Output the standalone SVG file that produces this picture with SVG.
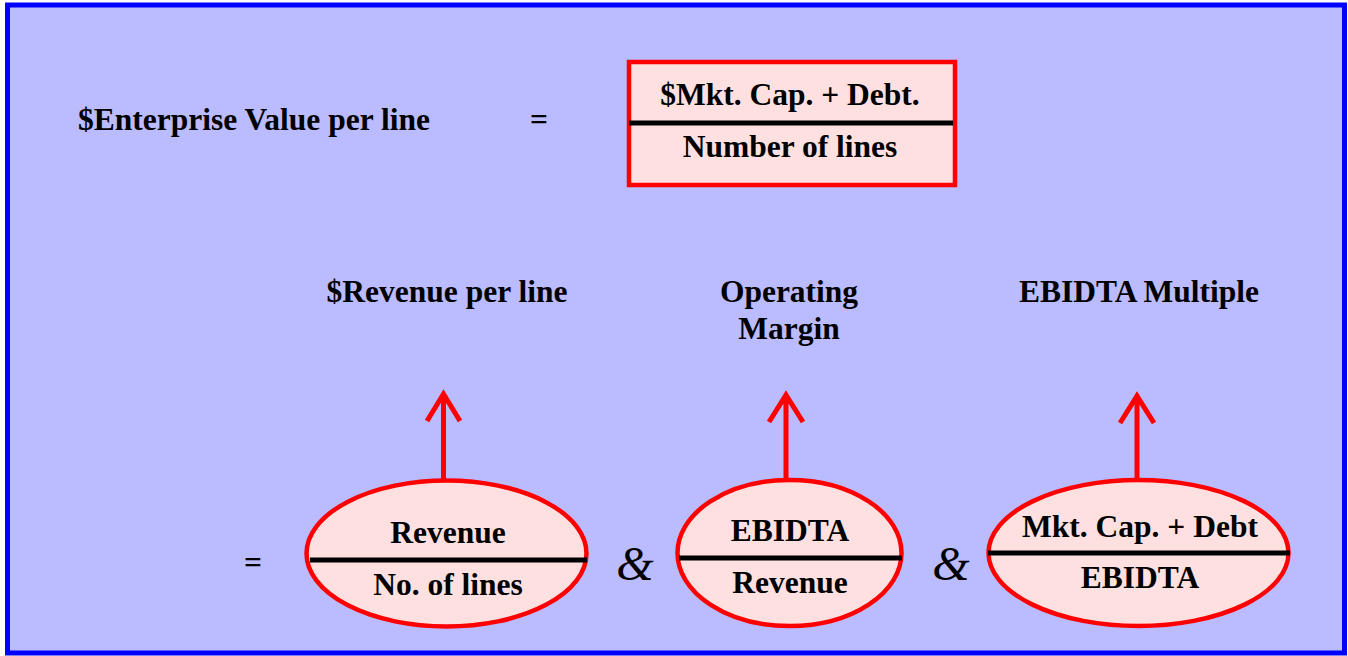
<svg xmlns="http://www.w3.org/2000/svg" width="1348" height="656" viewBox="0 0 1348 656">
<defs>
<style>
.t{font-family:"Liberation Serif","Times New Roman",serif;font-weight:bold;font-size:31.5px;fill:#000;text-anchor:middle}
.amp{font-family:"Liberation Serif","Times New Roman",serif;font-style:italic;font-size:48px;fill:#000;text-anchor:middle}
.shape{fill:#FFE0E0;stroke:#FF0000;stroke-width:4.5}
.div{stroke:#000;stroke-width:5}
.arr{stroke:#FF0000;stroke-width:5;fill:none}
</style>
</defs>
<rect x="7.5" y="5" width="1337" height="648" fill="#BBBBFF" stroke="#0000FF" stroke-width="5"/>
<g id="lhs">
<text class="t" x="254" y="130">$Enterprise Value per line</text>
<text class="t" x="539" y="130">=</text>
</g>
<g id="formula-box">
<rect class="shape" x="629" y="62" width="326" height="123"/>
<line class="div" x1="629" y1="123" x2="953" y2="123"/>
<text class="t" x="790" y="105">$Mkt. Cap. + Debt.</text>
<text class="t" x="790" y="157">Number of lines</text>
</g>
<g id="label-revenue"><text class="t" x="447" y="302">$Revenue per line</text></g>
<g id="label-margin"><text class="t" x="789" y="302">Operating</text><text class="t" x="789" y="339">Margin</text></g>
<g id="label-ebidta"><text class="t" x="1139" y="302">EBIDTA Multiple</text></g>
<g id="eq2"><text class="t" x="253" y="573">=</text></g>
<g id="node-revenue">
<ellipse class="shape" cx="446.5" cy="553.5" rx="140" ry="73"/>
<line class="div" x1="310" y1="560" x2="587" y2="560"/>
<text class="t" x="448" y="543">Revenue</text>
<text class="t" x="448" y="595">No. of lines</text>
</g>
<g id="amp1"><text class="amp" x="635" y="580">&amp;</text></g>
<g id="node-margin">
<ellipse class="shape" cx="789.5" cy="553" rx="112" ry="73"/>
<line class="div" x1="679" y1="558" x2="902" y2="558"/>
<text class="t" x="790" y="541">EBIDTA</text>
<text class="t" x="790" y="593">Revenue</text>
</g>
<g id="amp2"><text class="amp" x="951" y="580">&amp;</text></g>
<g id="node-multiple">
<ellipse class="shape" cx="1138.5" cy="553" rx="150" ry="73"/>
<line class="div" x1="988" y1="553" x2="1290" y2="553"/>
<text class="t" x="1140" y="537">Mkt. Cap. + Debt</text>
<text class="t" x="1140" y="588">EBIDTA</text>
</g>
<g id="connectors">
<path class="arr" d="M443.5 479V395M427 421L443.5 394L460 421"/>
<path class="arr" d="M786 479V396M769 422L786 395L803 422"/>
<path class="arr" d="M1137 479V397M1120 423L1137 396L1154 423"/>
</g>
</svg>
